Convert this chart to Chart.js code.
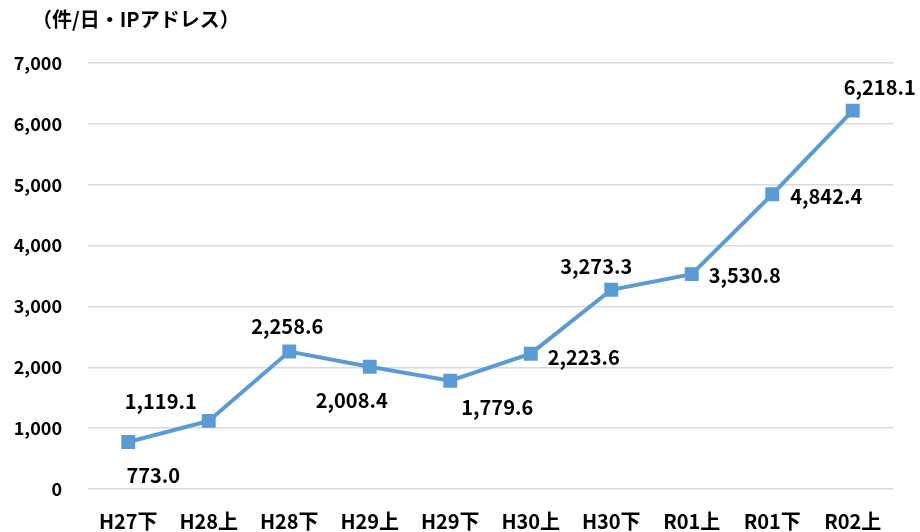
<!DOCTYPE html>
<html>
<head>
<meta charset="utf-8">
<script src="https://cdn.jsdelivr.net/npm/chart.js@4.4.0/dist/chart.umd.min.js"></script>
<style>
  html, body { margin: 0; padding: 0; background: #fff; }
  #wrap { width: 920px; height: 532px; }
</style>
</head>
<body>
<div id="wrap"><canvas id="chart"></canvas></div>
<script>
// data
const periods = ['H27下', 'H28上', 'H28下', 'H29上', 'H29下', 'H30上', 'H30下', 'R01上', 'R01下', 'R02上'];
const counts = [773.0, 1119.1, 2258.6, 2008.4, 1779.6, 2223.6, 3273.3, 3530.8, 4842.4, 6218.1];
const yTicks = [0, 1000, 2000, 3000, 4000, 5000, 6000, 7000];
const unitLabel = '（件/日・IPアドレス）';

const FONT = '"Noto Sans CJK JP", "Noto Sans", sans-serif';

// label offsets from each point (dx, dy)
const labelPos = [
    [25, 33], [-48, -19], [-2, -25], [-18, 34], [47, 27],
    [53, 4], [-15, -23], [53, 1], [54, 2], [27, -23]
];

const fmt = v => v.toLocaleString('en-US', { minimumFractionDigits: 1, maximumFractionDigits: 1 });

const extras = {
    id: 'extras',
    afterDatasetsDraw(chart) {
        const ctx = chart.ctx;
        const meta = chart.getDatasetMeta(0);
        ctx.save();
        ctx.fillStyle = '#000';
        ctx.font = 'bold 20px ' + FONT;
        ctx.textAlign = 'center';
        ctx.textBaseline = 'middle';
        meta.data.forEach((pt, i) => {
            ctx.fillText(fmt(counts[i]), pt.x + labelPos[i][0], pt.y + labelPos[i][1]);
        });
        ctx.textAlign = 'left';
        ctx.font = 'bold 20px ' + FONT;
        ctx.fillText(unitLabel, 32, 19);
        ctx.restore();
    }
};

new Chart(document.getElementById('chart').getContext('2d'), {
    type: 'line',
    data: {
        labels: periods,
        datasets: [{
            data: counts,
            borderColor: '#5b9bd5',
            backgroundColor: '#5b9bd5',
            borderWidth: 4,
            pointStyle: 'rect',
            pointRadius: 7,
            pointHoverRadius: 7,
            tension: 0
        }]
    },
    plugins: [extras],
    options: {
        responsive: true,
        maintainAspectRatio: false,
        animation: false,
        layout: { padding: { top: 63, right: 27, left: 0, bottom: 0 } },
        plugins: {
            legend: { display: false },
            tooltip: { enabled: false }
        },
        scales: {
            x: {
                offset: true,
                grid: { display: false },
                border: { display: false },
                ticks: {
                    color: '#000',
                    font: { family: FONT, size: 20, weight: 'bold' },
                    padding: 12,
                    maxRotation: 0
                },
                afterFit(scale) { scale.height = 43; }
            },
            y: {
                min: 0,
                max: 7000,
                afterBuildTicks(scale) { scale.ticks = yTicks.map(v => ({ value: v })); },
                grid: { color: '#d9d9d9', lineWidth: 1.5, drawTicks: false },
                border: { display: false },
                ticks: {
                    color: '#000',
                    font: { family: FONT, size: 18, weight: 'bold' },
                    padding: 26,
                    callback: v => v.toLocaleString('en-US')
                },
                afterFit(scale) { scale.width = 88; }
            }
        }
    }
});
</script>
</body>
</html>
